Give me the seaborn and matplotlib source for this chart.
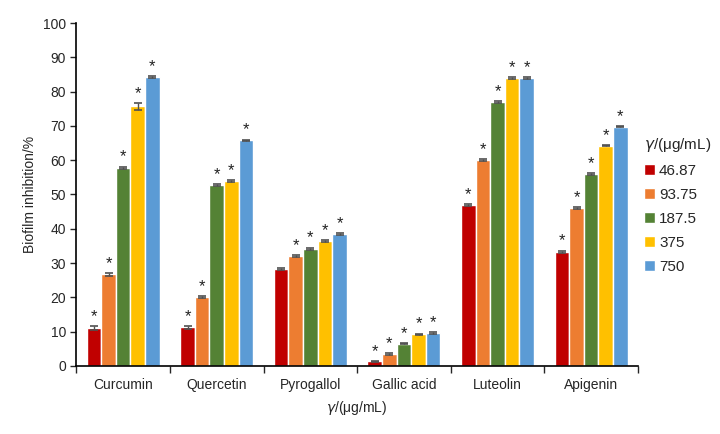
import pandas as pd
import seaborn as sns
import matplotlib.pyplot as plt
import numpy as np

# data
compounds = ['Curcumin', 'Quercetin', 'Pyrogallol', 'Gallic acid', 'Luteolin', 'Apigenin']
doses = ['46.87', '93.75', '187.5', '375', '750']

inhibition = {
    '46.87': [11.0, 11.2, 28.2, 1.3, 47.0, 33.3],
    '93.75': [26.7, 20.0, 32.0, 3.5, 60.0, 46.0],
    '187.5': [57.7, 52.8, 34.2, 6.5, 77.0, 56.0],
    '375':   [75.7, 53.8, 36.4, 9.2, 84.0, 64.2],
    '750':   [84.2, 65.8, 38.5, 9.6, 84.0, 69.8],
}
errors = {
    '46.87': [0.6, 0.5, 0.3, 0.2, 0.3, 0.3],
    '93.75': [0.4, 0.3, 0.2, 0.2, 0.3, 0.2],
    '187.5': [0.4, 0.2, 0.3, 0.2, 0.2, 0.2],
    '375':   [1.0, 0.3, 0.3, 0.2, 0.3, 0.2],
    '750':   [0.3, 0.2, 0.3, 0.2, 0.3, 0.2],
}
# significance marks (True = star)
signif = {
    '46.87': [True, True, False, True, True, True],
    '93.75': [True, True, True, True, True, True],
    '187.5': [True, True, True, True, True, True],
    '375':   [True, True, True, True, True, True],
    '750':   [True, True, True, True, True, True],
}

palette = ['#C00000', '#ED7D31', '#548235', '#FFC000', '#5B9BD5']

rows = []
for d in doses:
    for i, c in enumerate(compounds):
        rows.append({'compound': c, 'dose': d, 'value': inhibition[d][i],
                     'err': errors[d][i], 'star': signif[d][i]})
df = pd.DataFrame(rows)

sns.set_style('white')
plt.rcParams['font.family'] = ['Liberation Sans', 'DejaVu Sans']

fig = plt.figure(figsize=(7.2, 4.34), dpi=100)
ax = fig.add_axes([0.106, 0.157, 0.78, 0.79])

sns.barplot(data=df, x='compound', y='value', hue='dose', order=compounds,
            hue_order=doses, palette=palette, width=0.78, saturation=1,
            errorbar=None, ax=ax, legend=True)

# error bars and stars on each bar
bar_containers = list(ax.containers)
for j, cont in enumerate(bar_containers):
    d = doses[j]
    sub = df[df['dose'] == d].set_index('compound').loc[compounds]
    for patch, (_, r) in zip(cont.patches, sub.iterrows()):
        xc = patch.get_x() + patch.get_width() / 2
        ax.errorbar(xc, r['value'], yerr=r['err'], fmt='none', ecolor='#505050',
                    elinewidth=1, capsize=3, capthick=1.2)
        if r['star']:
            ax.text(xc, r['value'] + r['err'] + 0.6, '*', ha='center', va='bottom',
                    fontsize=12, color='#222222')

ax.set_ylim(0, 100)
ax.set_yticks(range(0, 101, 10))
ax.set_xlim(-0.5, len(compounds) - 0.5)
ax.set_xticks(np.arange(len(compounds)))
ax.set_xticklabels(compounds, fontsize=10)
ax.tick_params(axis='x', length=0, pad=9)
ax.tick_params(axis='y', labelsize=10, length=4, direction='out', left=True, width=1)
# minor ticks between categories
ax.set_xticks(np.arange(-0.5, len(compounds), 1), minor=True)
ax.tick_params(axis='x', which='minor', length=5, direction='out', bottom=True, width=1)

for s in ['top', 'right']:
    ax.spines[s].set_visible(False)
for s in ['left', 'bottom']:
    ax.spines[s].set_color('black')
    ax.spines[s].set_linewidth(1.2)

ax.set_ylabel('Biofilm inhibition/%', fontsize=10)
ax.set_xlabel(r'$\mathit{\gamma}$/(μg/mL)', fontsize=10, labelpad=5)

leg = ax.legend(title=r'$\mathit{\gamma}$/(μg/mL)', loc='center left',
                bbox_to_anchor=(0.986, 0.47), frameon=False, fontsize=11,
                title_fontsize=11, handlelength=0.7, handleheight=0.7,
                handletextpad=0.3, labelspacing=0.65)
leg._legend_box.align = 'left'

fig.savefig('out.png', dpi=100)
